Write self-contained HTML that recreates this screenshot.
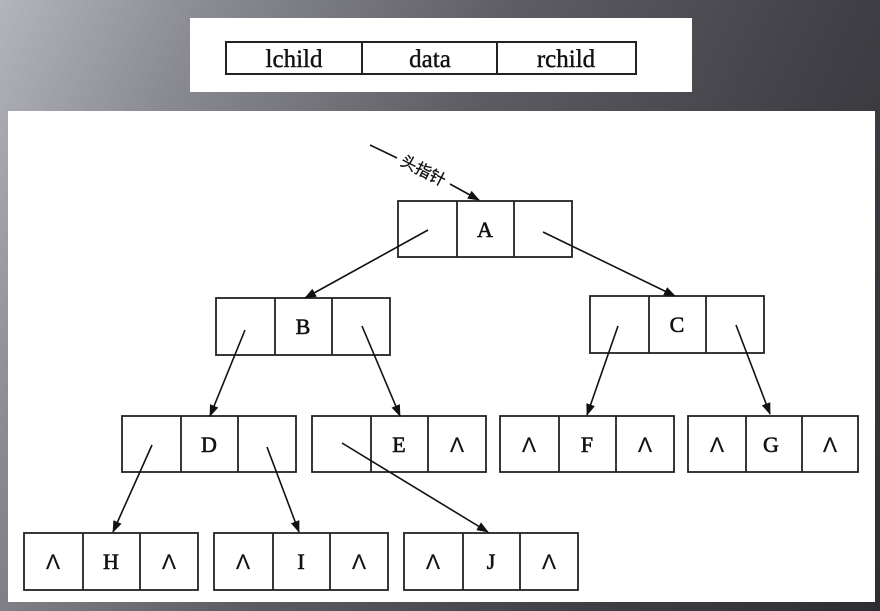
<!DOCTYPE html>
<html><head><meta charset="utf-8"><style>
body{margin:0;width:880px;height:611px;overflow:hidden;background:linear-gradient(115deg,#b4b4bc 0%,#8a8a92 18%,#5c5c62 45%,#3e3e44 75%,#2e2e32 100%);font-family:"Liberation Serif","Noto Serif CJK SC",serif}
svg{position:absolute;left:0;top:0}
</style></head><body>
<svg width="880" height="611" viewBox="0 0 880 611">
<defs><marker id="a" markerWidth="12" markerHeight="12" refX="11" refY="6" orient="auto" markerUnits="userSpaceOnUse"><path d="M0,1.5 L12,6 L0,10.5 z" fill="#111"/></marker></defs>
<rect x="190" y="18" width="502" height="74" fill="#fff"/>
<rect x="8" y="111" width="867" height="491" fill="#fff"/>
<g stroke="#222" stroke-width="2" fill="none">
<rect x="226" y="42" width="410" height="32"/><line x1="362" y1="42" x2="362" y2="74"/><line x1="497" y1="42" x2="497" y2="74"/>
</g>
<g font-size="25" text-anchor="middle" fill="#111" stroke="#111" stroke-width="0.4"><text x="294" y="67">lchild</text><text x="430" y="67">data</text><text x="566" y="67">rchild</text></g>
<g stroke="#222" stroke-width="1.8" fill="none">
<rect x="398" y="201" width="174" height="56"/><line x1="457" y1="201" x2="457" y2="257"/><line x1="514" y1="201" x2="514" y2="257"/>
<rect x="216" y="298" width="174" height="57"/><line x1="275" y1="298" x2="275" y2="355"/><line x1="332" y1="298" x2="332" y2="355"/>
<rect x="590" y="296" width="174" height="57"/><line x1="649" y1="296" x2="649" y2="353"/><line x1="706" y1="296" x2="706" y2="353"/>
<rect x="122" y="416" width="174" height="56"/><line x1="181" y1="416" x2="181" y2="472"/><line x1="238" y1="416" x2="238" y2="472"/>
<rect x="312" y="416" width="174" height="56"/><line x1="371" y1="416" x2="371" y2="472"/><line x1="428" y1="416" x2="428" y2="472"/>
<rect x="500" y="416" width="174" height="56"/><line x1="559" y1="416" x2="559" y2="472"/><line x1="616" y1="416" x2="616" y2="472"/>
<rect x="688" y="416" width="170" height="56"/><line x1="746" y1="416" x2="746" y2="472"/><line x1="802" y1="416" x2="802" y2="472"/>
<rect x="24" y="533" width="174" height="57"/><line x1="83" y1="533" x2="83" y2="590"/><line x1="140" y1="533" x2="140" y2="590"/>
<rect x="214" y="533" width="174" height="57"/><line x1="273" y1="533" x2="273" y2="590"/><line x1="330" y1="533" x2="330" y2="590"/>
<rect x="404" y="533" width="174" height="57"/><line x1="463" y1="533" x2="463" y2="590"/><line x1="520" y1="533" x2="520" y2="590"/>
</g>
<g font-size="22" text-anchor="middle" fill="#111" stroke="#111" stroke-width="0.6">
<text x="485" y="237">A</text><text x="303" y="334">B</text><text x="677" y="332">C</text>
<text x="209" y="452">D</text><text x="399" y="452">E</text><text x="587" y="452">F</text><text x="771" y="452">G</text>
<text x="111" y="569">H</text><text x="301" y="569">I</text><text x="491" y="569">J</text>
<g font-family="Liberation Sans,sans-serif" font-size="21" stroke-width="0.2">
<text x="457" y="452">Λ</text><text x="529" y="452">Λ</text><text x="645" y="452">Λ</text><text x="717" y="452">Λ</text><text x="830" y="452">Λ</text>
<text x="53" y="569">Λ</text><text x="169" y="569">Λ</text><text x="243" y="569">Λ</text><text x="359" y="569">Λ</text><text x="433" y="569">Λ</text><text x="549" y="569">Λ</text>
</g></g>
<g stroke="#111" stroke-width="1.6" marker-end="url(#a)">
<line x1="370" y1="145" x2="397" y2="158" marker-end="none"/>
<line x1="450" y1="184" x2="479" y2="200"/>
<line x1="428" y1="230" x2="305" y2="298"/>
<line x1="543" y1="232" x2="675" y2="296"/>
<line x1="245" y1="330" x2="210" y2="416"/>
<line x1="362" y1="326" x2="400" y2="416"/>
<line x1="618" y1="326" x2="587" y2="415"/>
<line x1="736" y1="325" x2="770" y2="414"/>
<line x1="152" y1="445" x2="113" y2="532"/>
<line x1="267" y1="447" x2="299" y2="532"/>
<line x1="342" y1="443" x2="488" y2="532"/>
</g>
<text x="423" y="176" font-size="16" text-anchor="middle" fill="#111" stroke="#111" stroke-width="0.3" font-family="Liberation Sans,Noto Sans CJK SC,sans-serif" transform="rotate(27 423 171)">头指针</text>
</svg>
</body></html>
